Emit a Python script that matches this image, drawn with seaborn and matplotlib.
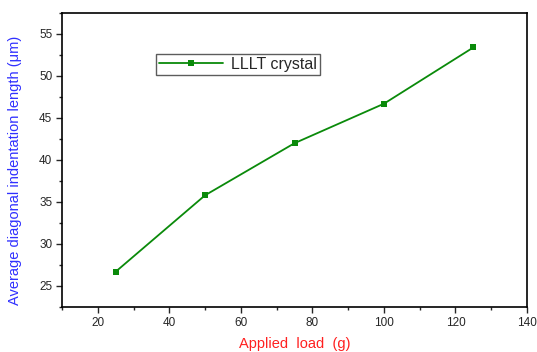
import matplotlib
matplotlib.use("Agg")
import matplotlib.pyplot as plt
import seaborn as sns
import pandas as pd
from matplotlib.ticker import MultipleLocator

# Indentation length vs applied load
load_g = [25, 50, 75, 100, 125]
diag_len_um = [26.7, 35.8, 42.0, 46.7, 53.4]
series_name = "LLLT crystal"

sns.set_style("ticks")
plt.rcParams["font.family"] = ["Liberation Sans", "DejaVu Sans"]

df = pd.DataFrame({"load": load_g, "length": diag_len_um})

fig = plt.figure(figsize=(5.37, 3.52), dpi=100)
ax = fig.add_axes([62 / 537, 1 - 307 / 352, 465 / 537, 294 / 352])

sns.lineplot(data=df, x="load", y="length", ax=ax, color="#0a8a0a",
             marker="s", markersize=5, markeredgewidth=0, linewidth=1.3,
             label=series_name)

ax.set_xlim(10, 140)
ax.set_ylim(22.5, 57.5)
ax.xaxis.set_major_locator(MultipleLocator(20))
ax.xaxis.set_minor_locator(MultipleLocator(10))
ax.yaxis.set_major_locator(MultipleLocator(5))
ax.yaxis.set_minor_locator(MultipleLocator(2.5))
ax.set_xticks(range(20, 141, 20))
ax.tick_params(which="major", direction="out", length=4, width=1, labelsize=8.5, pad=3)
ax.tick_params(which="minor", direction="out", length=2.5, width=1)
ax.tick_params(top=False, right=False)
for s in ax.spines.values():
    s.set_linewidth(1.2)
    s.set_color("black")

ax.set_xlabel("Applied  load  (g)", color="#ff2020", fontsize=10.5, labelpad=6)
ax.set_ylabel("Average diagonal indentation length (\u03bcm)", color="#3030ff",
              fontsize=10.5)
ax.yaxis.set_label_coords(-0.085, 0.465)

leg = ax.legend(loc="upper left", bbox_to_anchor=(0.202, 0.862), frameon=True,
                fancybox=False, fontsize=11.5, handlelength=4,
                borderpad=0.2, handletextpad=0.5, borderaxespad=0)
leg.get_frame().set_edgecolor("#333333")
leg.get_frame().set_linewidth(1.0)

fig.savefig("out.png", dpi=100)
